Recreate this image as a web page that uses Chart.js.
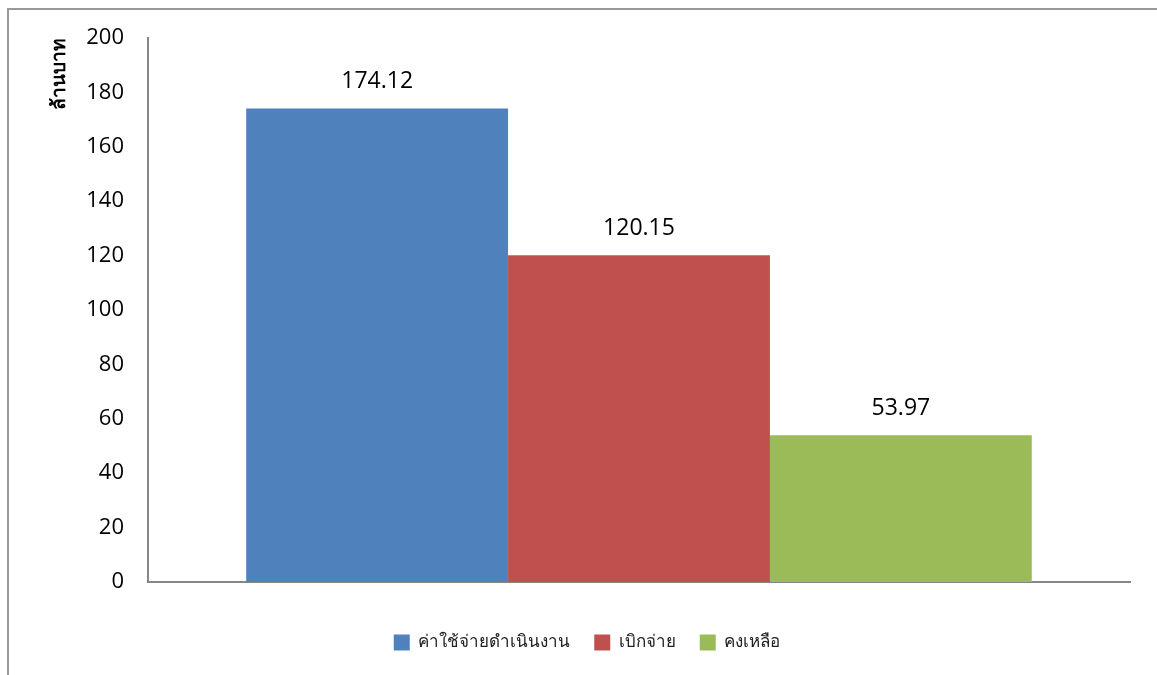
<!DOCTYPE html>
<html>
<head>
<meta charset="utf-8">
<script src="https://cdn.jsdelivr.net/npm/chart.js@4/dist/chart.umd.min.js"></script>
<style>
  html, body { margin: 0; padding: 0; background: #fff; overflow: hidden; }
  #wrap { position: absolute; left: 0; top: 0; width: 1157px; height: 675px; }
  #frame { position: absolute; left: 7px; top: 8px; width: 1200px; height: 720px; border: 2px solid #999; }
</style>
</head>
<body>
<div id="wrap">
  <div id="frame"></div>
  <canvas id="c" width="1157" height="675"></canvas>
</div>
<script>
let seriesNames = ["ค่าใช้จ่ายดำเนินงาน", "เบิกจ่าย", "คงเหลือ"];
let seriesValues = [174.12, 120.15, 53.97];
let seriesColors = ["#4F81BD", "#C0504D", "#9BBB59"];
let categories = [""];
let yTitle = "ล้านบาท";

const fontFam = "'Open Sans', 'Noto Sans', 'DejaVu Sans', sans-serif";

// draw the value above each bar
const valueLabels = {
    id: "valueLabels",
    afterDatasetsDraw(chart) {
        let ctx = chart.ctx;
        ctx.save();
        ctx.font = "23px " + fontFam;
        ctx.fillStyle = "#000";
        ctx.textAlign = "center";
        ctx.textBaseline = "middle";
        chart.data.datasets.forEach((ds, i) => {
            chart.getDatasetMeta(i).data.forEach((bar, j) => {
                ctx.fillText(ds.data[j].toFixed(2), bar.x, bar.y - 27);
            });
        });
        ctx.restore();
    }
};

new Chart(document.getElementById("c"), {
    type: "bar",
    data: {
        labels: categories,
        datasets: seriesNames.map((name, i) => ({
            label: name,
            data: [seriesValues[i]],
            backgroundColor: seriesColors[i],
            categoryPercentage: 0.8,
            barPercentage: 1.0
        }))
    },
    options: {
        responsive: false,
        animation: false,
        layout: { padding: { left: 44, top: 38, right: 27, bottom: 14 } },
        plugins: {
            legend: {
                position: "bottom",
                labels: {
                    boxWidth: 16,
                    boxHeight: 16,
                    padding: 24,
                    color: "#222",
                    font: { size: 17, family: fontFam }
                }
            },
            tooltip: { enabled: false }
        },
        scales: {
            x: {
                grid: { display: false },
                border: { color: "#868686", width: 2 },
                ticks: { display: false },
                afterFit(scale) { scale.height = 28; }
            },
            y: {
                min: 0,
                max: 200,
                afterFit(scale) { scale.width = 104; },
                ticks: {
                    stepSize: 20,
                    padding: 24,
                    color: "#000",
                    font: { size: 22, family: fontFam }
                },
                grid: { display: false, drawTicks: false },
                border: { color: "#868686", width: 2 },
                title: {
                    display: true,
                    text: yTitle,
                    align: "end",
                    color: "#000",
                    padding: 4,
                    font: { size: 19, weight: "bold", family: fontFam }
                }
            }
        }
    },
    plugins: [valueLabels]
});
</script>
</body>
</html>
